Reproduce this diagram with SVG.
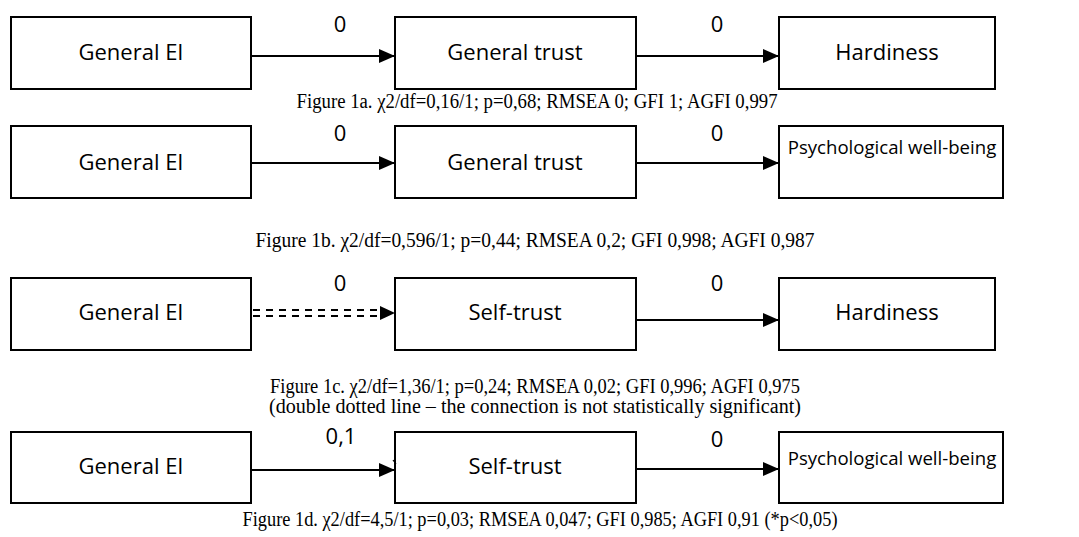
<svg xmlns="http://www.w3.org/2000/svg" width="1079" height="537" viewBox="0 0 1079 537">
  <defs>
    <marker id="arrow" viewBox="0 0 16 14" refX="16" refY="7" markerWidth="16" markerHeight="14" markerUnits="userSpaceOnUse" orient="auto">
      <path d="M0,0 L16,7 L0,14 Z" fill="#000"/>
    </marker>
    <style>
      .box { fill: #fff; stroke: #000; stroke-width: 2; }
      .lbl { font-family: "Open Sans", "Noto Sans", sans-serif; font-size: 22px; fill: #000; text-anchor: middle; }
      .lbl-sm { font-family: "Open Sans", "Noto Sans", sans-serif; font-size: 18.6px; fill: #000; text-anchor: middle; }
      .coef { font-family: "Open Sans", "Noto Sans", sans-serif; font-size: 22px; fill: #000; text-anchor: middle; }
      .cap { font-family: "Liberation Serif", "Times New Roman", serif; font-size: 20px; fill: #000; text-anchor: middle; }
      .edge { stroke: #000; stroke-width: 2; fill: none; }
      .dash { stroke: #000; stroke-width: 2; fill: none; stroke-dasharray: 7 6; }
    </style>
  </defs>

  <!-- Model 1a -->
  <g id="m1a-ei"><rect class="box" x="11" y="17" width="240" height="72"/><text class="lbl" x="131" y="60">General EI</text></g>
  <g id="m1a-trust"><rect class="box" x="395" y="17" width="241" height="72"/><text class="lbl" x="515" y="60">General trust</text></g>
  <g id="m1a-hard"><rect class="box" x="779" y="17" width="216" height="72"/><text class="lbl" x="887" y="60">Hardiness</text></g>
  <text class="cap" x="537" y="108" textLength="481" lengthAdjust="spacingAndGlyphs">Figure 1a. χ2/df=0,16/1; p=0,68; RMSEA 0; GFI 1; AGFI 0,997</text>

  <!-- Model 1b -->
  <g id="m1b-ei"><rect class="box" x="11" y="126" width="240" height="72"/><text class="lbl" x="131" y="170">General EI</text></g>
  <g id="m1b-trust"><rect class="box" x="395" y="126" width="241" height="72"/><text class="lbl" x="515" y="170">General trust</text></g>
  <g id="m1b-pwb"><rect class="box" x="779" y="126" width="224" height="72"/><text class="lbl-sm" x="892" y="154">Psychological well-being</text></g>
  <text class="cap" x="535" y="247" textLength="559" lengthAdjust="spacingAndGlyphs">Figure 1b. χ2/df=0,596/1; p=0,44; RMSEA 0,2; GFI 0,998; AGFI 0,987</text>

  <!-- Model 1c -->
  <g id="m1c-ei"><rect class="box" x="11" y="278" width="240" height="72"/><text class="lbl" x="131" y="320">General EI</text></g>
  <g id="m1c-self"><rect class="box" x="395" y="278" width="241" height="72"/><text class="lbl" x="515" y="320">Self-trust</text></g>
  <g id="m1c-hard"><rect class="box" x="779" y="278" width="216" height="72"/><text class="lbl" x="887" y="320">Hardiness</text></g>
  <text class="cap" x="535" y="393" textLength="530" lengthAdjust="spacingAndGlyphs">Figure 1c. χ2/df=1,36/1; p=0,24; RMSEA 0,02; GFI 0,996; AGFI 0,975</text>
  <text class="cap" x="535" y="413" textLength="532" lengthAdjust="spacingAndGlyphs">(double dotted line – the connection is not statistically significant)</text>

  <!-- Model 1d -->
  <g id="m1d-ei"><rect class="box" x="11" y="432" width="240" height="71"/><text class="lbl" x="131" y="474">General EI</text></g>
  <g id="m1d-self"><rect class="box" x="395" y="432" width="241" height="71"/><text class="lbl" x="515" y="474">Self-trust</text></g>
  <g id="m1d-pwb"><rect class="box" x="779" y="432" width="224" height="71"/><text class="lbl-sm" x="892" y="465">Psychological well-being</text></g>
  <text class="cap" x="540" y="526" textLength="595" lengthAdjust="spacingAndGlyphs">Figure 1d. χ2/df=4,5/1; p=0,03; RMSEA 0,047; GFI 0,985; AGFI 0,91 (*p&lt;0,05)</text>

  <!-- Connectors -->
  <g id="connectors">
    <line class="edge" x1="252" y1="56" x2="395" y2="56" marker-end="url(#arrow)"/>
    <line class="edge" x1="637" y1="56" x2="779" y2="56" marker-end="url(#arrow)"/>
    <line class="edge" x1="252" y1="163" x2="395" y2="163" marker-end="url(#arrow)"/>
    <line class="edge" x1="637" y1="163" x2="779" y2="163" marker-end="url(#arrow)"/>
    <!-- non-significant path: double dashed line -->
    <line class="dash" x1="253" y1="310" x2="384" y2="310"/>
    <line class="dash" x1="253" y1="316" x2="384" y2="316"/>
    <path d="M380,306 L395,313 L380,320 Z" fill="#000"/>
    <line class="edge" x1="637" y1="320" x2="779" y2="320" marker-end="url(#arrow)"/>
    <line class="edge" x1="252" y1="470" x2="395" y2="470" marker-end="url(#arrow)"/>
    <line x1="393" y1="460" x2="396" y2="464" stroke="#000" stroke-width="1.2"/>
    <line class="edge" x1="637" y1="469" x2="779" y2="469" marker-end="url(#arrow)"/>
    <text class="coef" x="340" y="32">0</text>
    <text class="coef" x="717" y="32">0</text>
    <text class="coef" x="340" y="141">0</text>
    <text class="coef" x="717" y="141">0</text>
    <text class="coef" x="340" y="291">0</text>
    <text class="coef" x="717" y="291">0</text>
    <text class="coef" x="341" y="444">0,1</text>
    <text class="coef" x="717" y="447">0</text>
  </g>
</svg>
